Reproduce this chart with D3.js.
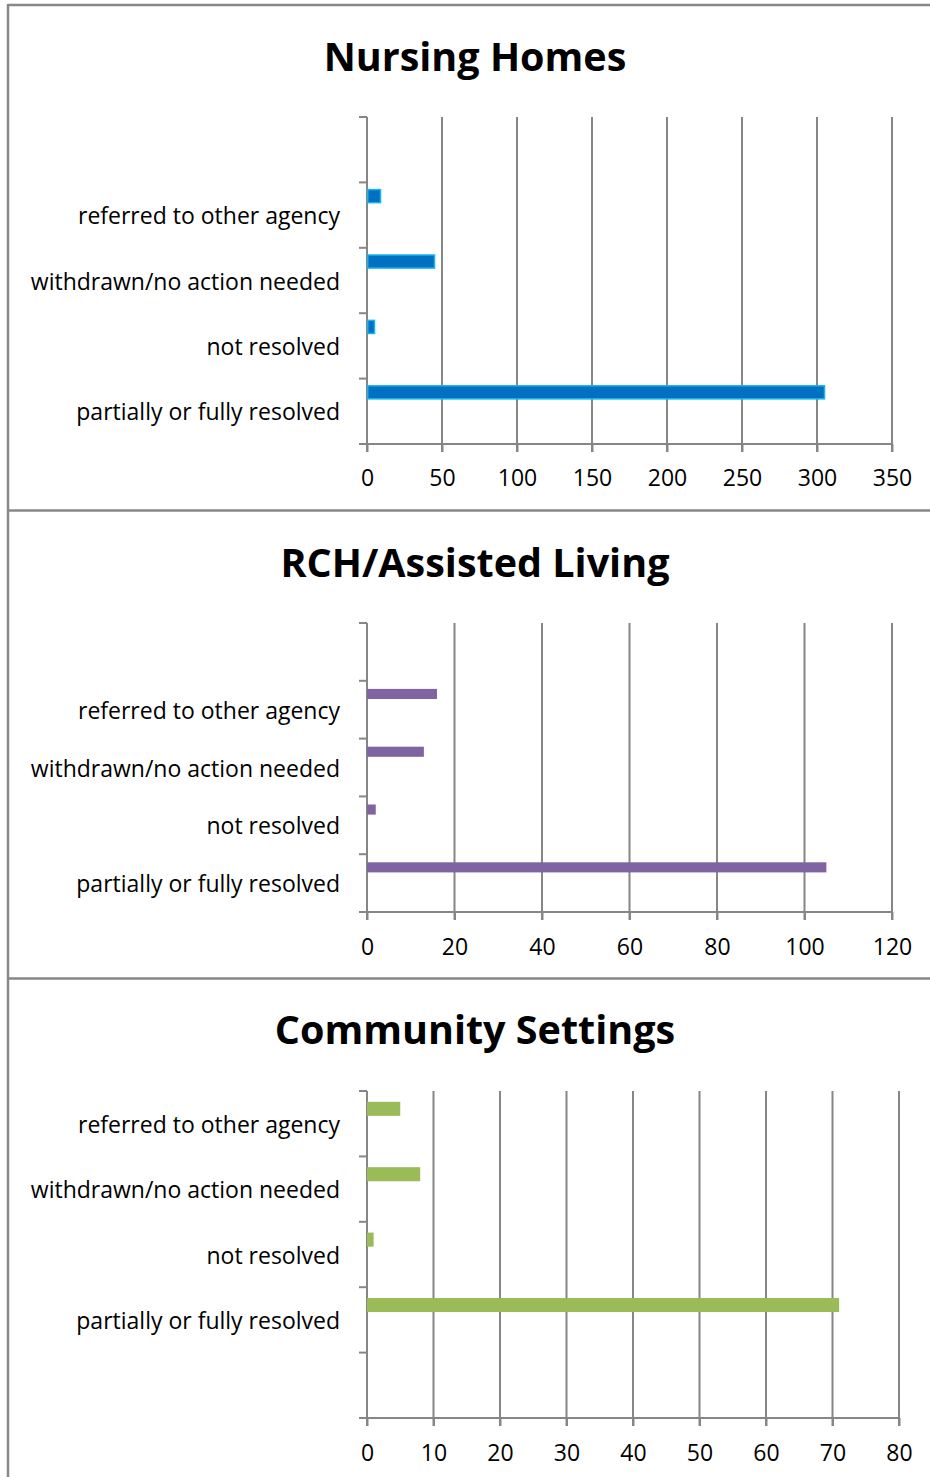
<!DOCTYPE html>
<html>
<head>
<meta charset="utf-8">
<script src="https://cdn.jsdelivr.net/npm/d3@7"></script>
<style>
  html, body { margin: 0; padding: 0; background: #fff; }
  svg { display: block; }
  text { font-family: "Open Sans", "Noto Sans", sans-serif; fill: #000; }
</style>
</head>
<body>
<svg id="chart" width="930" height="1477"></svg>
<script>
// ---- data ----
const categories = ["partially or fully resolved", "not resolved", "withdrawn/no action needed", "referred to other agency"];
const titles = ["Nursing Homes", "RCH/Assisted Living", "Community Settings"];
const nursingValues = [305, 5, 45, 9];
const rchValues = [105, 2, 13, 16];
const communityValues = [71, 1, 8, 5];
const nursingTicks = [0, 50, 100, 150, 200, 250, 300, 350];
const rchTicks = [0, 20, 40, 60, 80, 100, 120];
const communityTicks = [0, 10, 20, 30, 40, 50, 60, 70, 80];

// ---- layout / style ----
const panels = [
  { title: titles[0], values: nursingValues, ticks: nursingTicks, blankTop: true,
    x0: 367, x1: 892, yTop: 117, yBot: 444, titleY: 56, tickY: 478,
    barOff: 0.11, barH: 0.2, fill: "#0070C0", stroke: "#19B4F0", sw: 1.5 },
  { title: titles[1], values: rchValues, ticks: rchTicks, blankTop: true,
    x0: 367, x1: 892, yTop: 623, yBot: 912, titleY: 562, tickY: 947,
    barOff: 0.14, barH: 0.175, fill: "#8064A2", stroke: "none", sw: 0 },
  { title: titles[2], values: communityValues, ticks: communityTicks, blankTop: false,
    x0: 367, x1: 899, yTop: 1091, yBot: 1418, titleY: 1029, tickY: 1453,
    barOff: 0.165, barH: 0.215, fill: "#9BBB59", stroke: "none", sw: 0 }
];
const gridColor = "#868686";
const borderColor = "#878787";
const labelSize = 23;
const titleSize = 39.5;

const svg = d3.select("#chart");

// borders
const bg = svg.append("g").attr("stroke", borderColor).attr("stroke-width", 2.5).attr("fill", "none");
bg.append("line").attr("x1", 8).attr("x2", 930).attr("y1", 5).attr("y2", 5);
bg.append("line").attr("x1", 8).attr("x2", 8).attr("y1", 4).attr("y2", 1477);
bg.append("line").attr("x1", 8).attr("x2", 930).attr("y1", 510.5).attr("y2", 510.5);
bg.append("line").attr("x1", 8).attr("x2", 930).attr("y1", 978.5).attr("y2", 978.5);

panels.forEach(p => {
  const g = svg.append("g");
  const maxV = p.ticks[p.ticks.length - 1];
  const x = d3.scaleLinear().domain([0, maxV]).range([p.x0, p.x1]);
  const ordered = categories.slice().reverse(); // top to bottom
  const domain = p.blankTop ? [""].concat(ordered) : ordered.concat([" "]);
  const y = d3.scaleBand().domain(domain).range([p.yTop, p.yBot]).padding(0);
  const bw = y.bandwidth();

  // title
  g.append("text").attr("x", 475).attr("y", p.titleY)
    .attr("text-anchor", "middle").attr("dominant-baseline", "central")
    .attr("font-size", titleSize).attr("font-weight", "bold")
    .text(p.title);

  // gridlines (value axis)
  g.selectAll(".grid").data(p.ticks.slice(1)).join("line")
    .attr("x1", d => x(d)).attr("x2", d => x(d))
    .attr("y1", p.yTop).attr("y2", p.yBot + 8)
    .attr("stroke", gridColor).attr("stroke-width", 2);

  // x axis
  const xAxis = d3.axisBottom(x).tickValues(p.ticks).tickSize(8).tickPadding(0).tickFormat(d3.format("d"));
  const xa = g.append("g").attr("transform", `translate(0,${p.yBot})`).call(xAxis);
  xa.select(".domain").remove();
  xa.selectAll(".tick line").attr("stroke", gridColor).attr("stroke-width", 2);
  xa.selectAll(".tick text").attr("y", p.tickY - p.yBot).attr("dy", "0.35em")
    .attr("font-size", labelSize).attr("font-family", "Open Sans").attr("fill", "#000");
  g.append("line").attr("x1", 359).attr("x2", p.x1).attr("y1", p.yBot).attr("y2", p.yBot)
    .attr("stroke", gridColor).attr("stroke-width", 2);

  // y axis
  const yAxis = d3.axisLeft(y).tickSize(0).tickFormat("");
  const ya = g.append("g").attr("transform", `translate(${p.x0},0)`).call(yAxis);
  ya.select(".domain").remove();
  g.append("line").attr("x1", p.x0).attr("x2", p.x0).attr("y1", p.yTop).attr("y2", p.yBot + 8)
    .attr("stroke", gridColor).attr("stroke-width", 2);
  const bounds = domain.map(d => y(d)).concat([p.yBot]);
  g.selectAll(".ytick").data(bounds).join("line")
    .attr("x1", 359).attr("x2", p.x0).attr("y1", d => d).attr("y2", d => d)
    .attr("stroke", gridColor).attr("stroke-width", 2);

  // category labels
  g.selectAll(".clabel").data(categories).join("text")
    .attr("x", 340).attr("y", d => y(d) + bw / 2)
    .attr("text-anchor", "end").attr("dominant-baseline", "central")
    .attr("font-size", labelSize)
    .text(d => d);

  // bars
  g.selectAll(".bar").data(categories.map((c, i) => ({ c, v: p.values[i] }))).join("rect")
    .attr("x", x(0) + p.sw / 2)
    .attr("y", d => y(d.c) + bw * p.barOff)
    .attr("width", d => x(d.v) - x(0) - p.sw / 2)
    .attr("height", bw * p.barH)
    .attr("fill", p.fill).attr("stroke", p.stroke).attr("stroke-width", p.sw);
});
</script>
</body>
</html>
